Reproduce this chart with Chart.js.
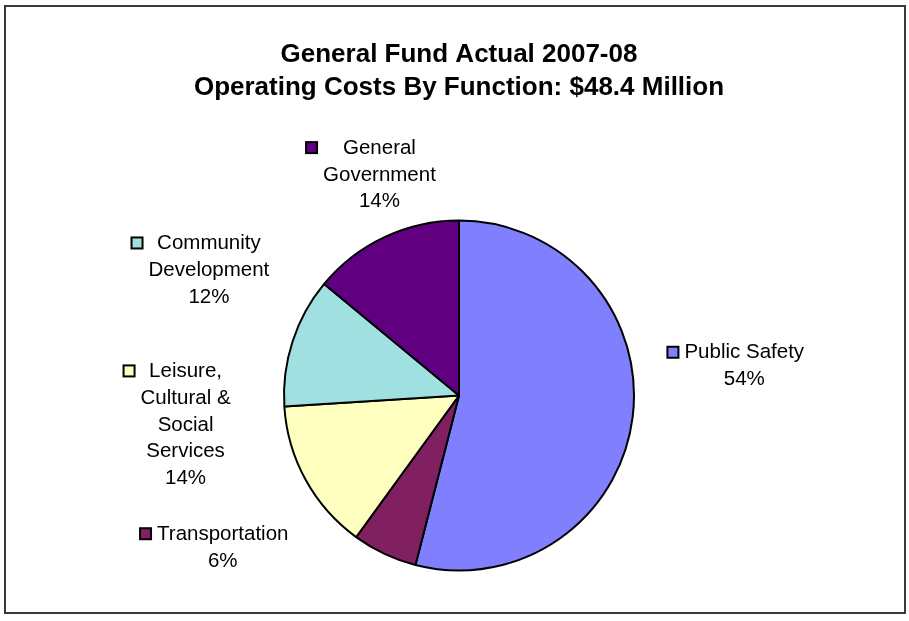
<!DOCTYPE html>
<html>
<head>
<meta charset="utf-8">
<script src="https://cdn.jsdelivr.net/npm/chart.js@4/dist/chart.umd.min.js"></script>
<style>
  html, body { margin: 0; padding: 0; background: #ffffff; }
  #wrap { width: 909px; height: 621px; }
</style>
</head>
<body>
<div id="wrap"><canvas id="c" width="909" height="621"></canvas></div>
<script>
// Operating cost shares by function (percent of $48.4 million)
const categories = [
  'Public Safety',
  'Transportation',
  'Leisure, Cultural & Social Services',
  'Community Development',
  'General Government'
];
const shares = [54, 6, 14, 12, 14];
const titleLines = ['General Fund Actual 2007-08', 'Operating Costs By Function: $48.4 Million'];

const sliceColors = ['#8080FF', '#802060', '#FFFFC0', '#A0E0E0', '#600080'];

// Where each label block sits, as multiples of the pie radius from its centre
const labelAnchors = [
  [1.63, -0.168],
  [-1.35, 0.869],
  [-1.5625, 0.168],
  [-1.429, -0.716],
  [-0.4545, -1.261]
];

const FONT = "'Liberation Sans', Arial, sans-serif";

function wrapWords(ctx, text, maxW) {
  const words = text.split(' ');
  const lines = [];
  let cur = '';
  for (const w of words) {
    const test = cur ? cur + ' ' + w : w;
    if (cur && ctx.measureText(test).width > maxW) {
      lines.push(cur);
      cur = w;
    } else {
      cur = test;
    }
  }
  if (cur) lines.push(cur);
  return lines;
}

const framePlugin = {
  id: 'frame',
  beforeDraw(chart) {
    const ctx = chart.ctx;
    ctx.save();
    ctx.fillStyle = '#ffffff';
    ctx.fillRect(0, 0, chart.width, chart.height);
    ctx.strokeStyle = '#3a3a3a';
    ctx.lineWidth = 2;
    ctx.strokeRect(5, 6, 900, 607);
    ctx.restore();
  }
};

const sliceLabels = {
  id: 'sliceLabels',
  afterDatasetsDraw(chart) {
    const ctx = chart.ctx;
    const meta = chart.getDatasetMeta(0);
    const values = chart.data.datasets[0].data;
    const total = values.reduce((a, b) => a + b, 0);
    const lineH = 26.75;
    ctx.save();
    ctx.font = '20.5px ' + FONT;
    ctx.fillStyle = '#000000';
    ctx.textAlign = 'center';
    ctx.textBaseline = 'middle';
    meta.data.forEach((arc, i) => {
      const R = arc.outerRadius;
      const cx = arc.x + labelAnchors[i][0] * R;
      const cy = arc.y + labelAnchors[i][1] * R;
      const lines = wrapWords(ctx, chart.data.labels[i], 130);
      lines.push(Math.round(values[i] / total * 100) + '%');
      const top = cy - (lines.length - 1) * lineH / 2;
      let maxW = 0;
      lines.forEach(l => { maxW = Math.max(maxW, ctx.measureText(l).width); });
      lines.forEach((l, k) => ctx.fillText(l, cx, top + k * lineH));
      // legend key beside the first line
      const kx = cx - maxW / 2 - 5 - 12;
      const ky = top - 6;
      ctx.fillStyle = sliceColors[i];
      ctx.fillRect(kx, ky, 11, 11);
      ctx.strokeStyle = '#000000';
      ctx.lineWidth = 2;
      ctx.strokeRect(kx, ky, 11, 11);
      ctx.fillStyle = '#000000';
    });
    ctx.restore();
  }
};

new Chart(document.getElementById('c'), {
  type: 'pie',
  data: {
    labels: categories,
    datasets: [{
      data: shares,
      backgroundColor: sliceColors,
      borderColor: '#000000',
      borderWidth: 2,
      radius: 175
    }]
  },
  options: {
    responsive: false,
    animation: false,
    events: [],
    layout: { padding: { left: 9, right: 0, top: 0, bottom: 20 } },
    plugins: {
      legend: { display: false },
      tooltip: { enabled: false },
      title: {
        display: true,
        text: titleLines,
        color: '#000000',
        font: { family: FONT, size: 26, weight: 'bold', lineHeight: 1.28 },
        padding: { top: 38, bottom: 85.5 }
      }
    }
  },
  plugins: [framePlugin, sliceLabels]
});
</script>
</body>
</html>
